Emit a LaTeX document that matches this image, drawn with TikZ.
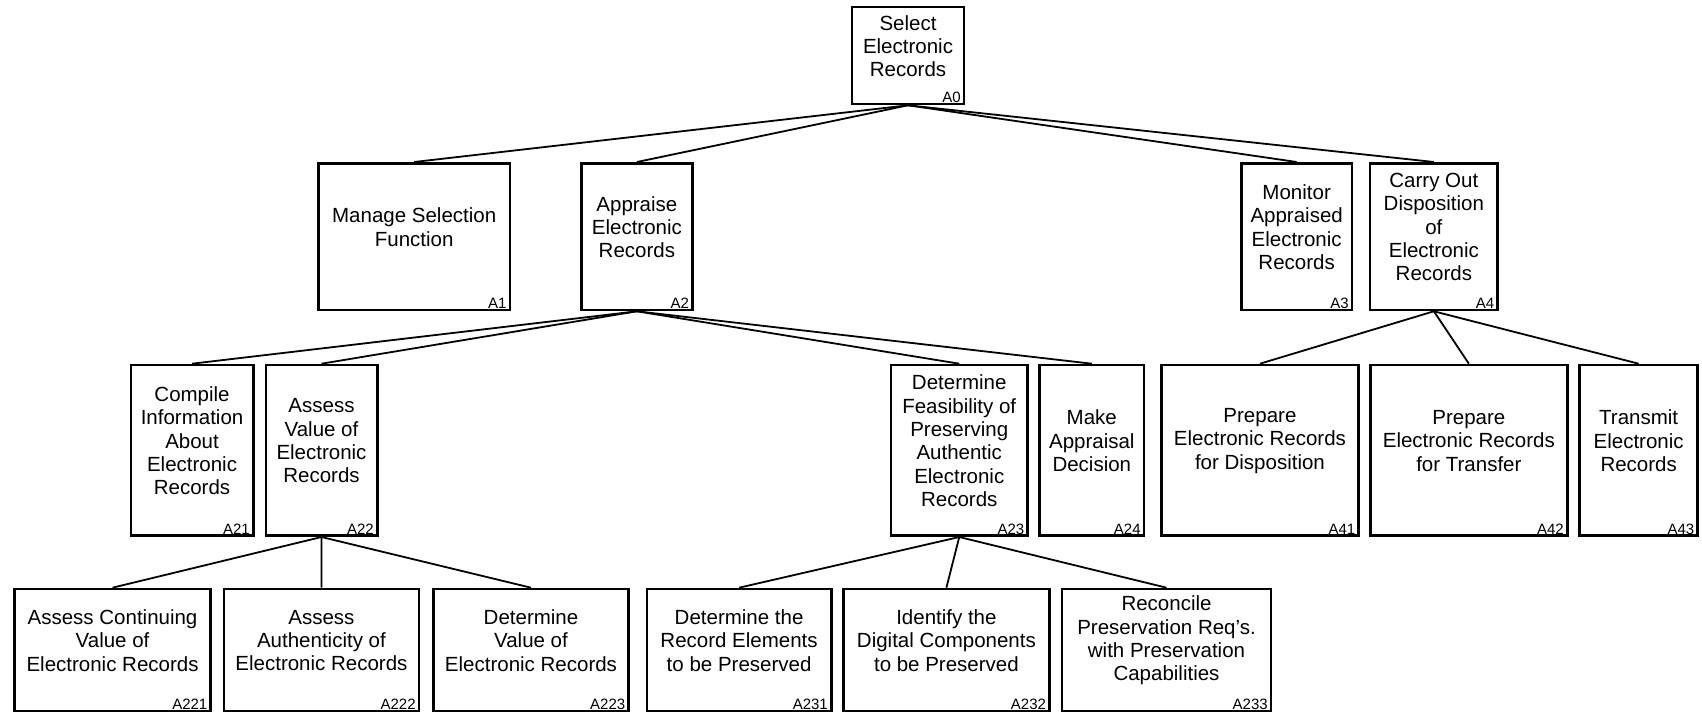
\documentclass[tikz,border=0pt]{standalone}
\usepackage{fontspec}
\setmainfont{Liberation Sans}
\newcommand\idefbox[7]{%
  \node[fbox, minimum width={#4-#2}, minimum height={#5-#3}] (#1) at ({(#2+#4)/2},{(#3+#5)/2}) {};
  \node[ftxt] (#1t) at ([yshift=9.5pt]#1.center) {#6};
  \node[flbl] (#1l) at ([xshift=-4.5pt,yshift=3pt]#1.south east) {#7};
}
\begin{document}
\begin{tikzpicture}[x=1pt,y=-1pt,
  fbox/.style={draw, line width=2.6pt, inner sep=0pt},
  ftxt/.style={align=center, inner sep=0pt, font=\fontsize{20.5}{23.3}\selectfont},
  flbl/.style={anchor=base east, inner sep=0pt, font=\fontsize{15}{16}\selectfont},
  conn/.style={line width=1.8pt}]
\useasboundingbox (0,0) rectangle (1702,715);
% level 0
\idefbox{A0}{852}{7}{964}{104}{Select\\Electronic\\Records}{A0}
% level 1
\idefbox{A1}{318.6}{163.3}{509.8}{310}{Manage Selection\\Function}{A1}
\idefbox{A2}{581.5}{163.3}{692.3}{310}{Appraise\\Electronic\\Records}{A2}
\idefbox{A3}{1241.2}{163.3}{1352.1}{310}{Monitor\\Appraised\\Electronic\\Records}{A3}
\idefbox{A4}{1370}{163.3}{1497.7}{310}{Carry Out\\Disposition\\of\\Electronic\\Records}{A4}
% level 2
\idefbox{A21}{130.9}{365}{253.2}{535.7}{Compile\\Information\\About\\Electronic\\Records}{A21}
\idefbox{A22}{265.8}{365}{377.2}{535.7}{Assess\\Value of\\Electronic\\Records}{A22}
\idefbox{A23}{890.8}{365}{1027.7}{535.7}{Determine\\Feasibility of\\Preserving\\Authentic\\Electronic\\Records}{A23}
\idefbox{A24}{1039.6}{365}{1144}{535.7}{Make\\Appraisal\\Decision}{A24}
\idefbox{A41}{1161.3}{365}{1358.6}{535.7}{Prepare\\Electronic Records\\for Disposition}{A41}
\idefbox{A42}{1370.5}{365}{1567.2}{535.7}{Prepare\\Electronic Records\\for Transfer}{A42}
\idefbox{A43}{1579.7}{365}{1697.6}{535.7}{Transmit\\Electronic\\Records}{A43}
% level 3
\idefbox{A221}{14.4}{589}{210.7}{711}{Assess Continuing\\Value of\\Electronic Records}{A221}
\idefbox{A222}{223.9}{589}{419}{711}{Assess\\Authenticity of\\Electronic Records}{A222}
\idefbox{A223}{433.4}{589}{628.6}{711}{Determine\\Value of\\Electronic Records}{A223}
\idefbox{A231}{647}{589}{831.2}{711}{Determine the\\Record Elements\\to be Preserved}{A231}
\idefbox{A232}{843.4}{589}{1049.4}{711}{Identify the\\Digital Components\\to be Preserved}{A232}
\idefbox{A233}{1061.9}{589}{1271.1}{711}{Reconcile\\Preservation Req's.\\with Preservation\\Capabilities}{A233}
% connectors
\foreach \c in {A1,A2,A3,A4} \draw[conn] (A0.south) -- (\c.north);
\foreach \c in {A21,A22,A23,A24} \draw[conn] (A2.south) -- (\c.north);
\foreach \c in {A41,A42,A43} \draw[conn] (A4.south) -- (\c.north);
\foreach \c in {A221,A222,A223} \draw[conn] (A22.south) -- (\c.north);
\foreach \c in {A231,A232,A233} \draw[conn] (A23.south) -- (\c.north);
\end{tikzpicture}
\end{document}
